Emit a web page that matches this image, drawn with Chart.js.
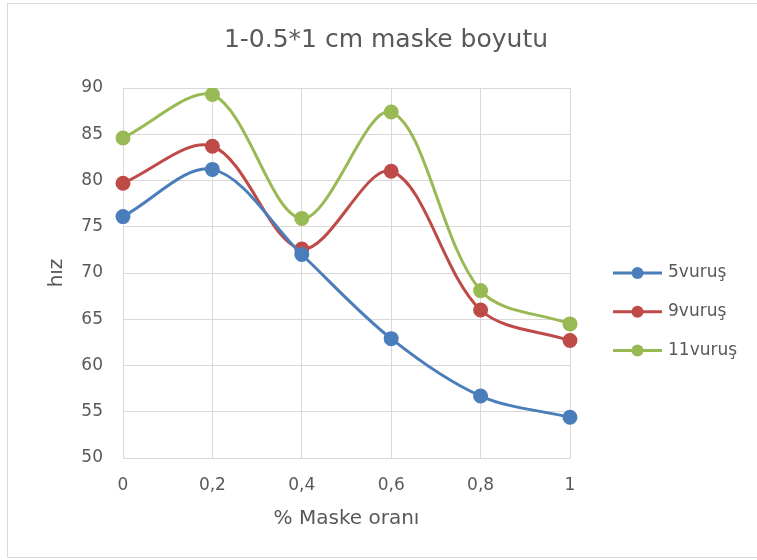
<!DOCTYPE html>
<html>
<head>
<meta charset="utf-8">
<script src="https://cdn.jsdelivr.net/npm/chart.js@4/dist/chart.umd.min.js"></script>
<style>
  html, body { margin: 0; padding: 0; background: #ffffff; }
  #wrap { width: 757px; height: 560px; position: relative; }
</style>
</head>
<body>
<div id="wrap"><canvas id="c" width="757" height="560"></canvas></div>
<script>
const chartTitle = "1-0.5*1 cm maske boyutu";
const xAxisTitle = "% Maske oranı";
const yAxisTitle = "hız";
const categories = ["0", "0,2", "0,4", "0,6", "0,8", "1"];
const seriesNames = ["5vuruş", "9vuruş", "11vuruş"];
const seriesColors = ["#4A7EBB", "#BE4B48", "#98B954"];
const values5 = [76.1, 81.2, 72.0, 62.9, 56.7, 54.4];
const values9 = [79.7, 83.7, 72.6, 81.0, 66.0, 62.7];
const values11 = [84.6, 89.3, 75.9, 87.4, 68.1, 64.5];
const yMin = 50, yMax = 90, yStep = 5;

const textColor = "#595959";
const gridColor = "#D9D9D9";
const fontFamily = "'DejaVu Sans', sans-serif";

const allValues = [values5, values9, values11];
const datasets = allValues.map((vals, i) => ({
  label: seriesNames[i],
  data: vals,
  borderColor: seriesColors[i],
  backgroundColor: seriesColors[i],
  pointBackgroundColor: seriesColors[i],
  pointBorderColor: seriesColors[i],
  borderWidth: 3,
  pointRadius: 6,
  pointHoverRadius: 6,
  tension: 0.33,
  fill: false,
  yAxisID: 'y'
}));

const frameAndLegend = {
  id: 'frameAndLegend',
  afterDraw(chart) {
    const ctx = chart.ctx;
    ctx.save();
    ctx.strokeStyle = gridColor;
    ctx.lineWidth = 1;
    ctx.strokeRect(7.5, 3.5, 770, 554);
    // legend
    const x0 = 613, x1 = 662, tx = 668;
    chart.data.datasets.forEach((ds, i) => {
      const y = 273 + i * 38.7;
      ctx.strokeStyle = ds.borderColor;
      ctx.lineWidth = 3;
      ctx.beginPath();
      ctx.moveTo(x0, y);
      ctx.lineTo(x1, y);
      ctx.stroke();
      ctx.fillStyle = ds.borderColor;
      ctx.beginPath();
      ctx.arc((x0 + x1) / 2, y, 6, 0, Math.PI * 2);
      ctx.fill();
      ctx.fillStyle = textColor;
      ctx.font = "17px " + fontFamily;
      ctx.textAlign = 'left';
      ctx.textBaseline = 'middle';
      ctx.fillText(ds.label, tx, y);
    });
    ctx.restore();
  }
};

new Chart(document.getElementById('c'), {
  type: 'line',
  data: { labels: categories, datasets: datasets },
  options: {
    responsive: false,
    animation: false,
    events: [],
    layout: { padding: { left: 15, right: 0, top: 0, bottom: 29 } },
    plugins: {
      legend: { display: false },
      tooltip: { enabled: false },
      title: {
        display: true,
        text: chartTitle,
        color: textColor,
        font: { family: fontFamily, size: 25, weight: 'normal', lineHeight: 1.2 },
        padding: { top: 25, bottom: 33 }
      }
    },
    scales: {
      x: {
        type: 'category',
        offset: false,
        grid: { color: gridColor, lineWidth: 1, drawTicks: false },
        border: { color: gridColor, width: 1 },
        ticks: { color: textColor, padding: 17, maxRotation: 0, autoSkip: false,
                 font: { family: fontFamily, size: 17 } },
        title: { display: true, text: xAxisTitle, color: textColor,
                 padding: { top: 0, bottom: 0 },
                 font: { family: fontFamily, size: 20, lineHeight: 1.2 } },
        afterFit: (s) => { s.height = 73; }
      },
      y: {
        type: 'linear',
        position: 'left',
        min: yMin, max: yMax,
        grid: { color: gridColor, lineWidth: 1, drawTicks: false },
        border: { color: gridColor, width: 1 },
        ticks: { stepSize: yStep, color: textColor, padding: 20,
                 font: { family: fontFamily, size: 17 } },
        title: { display: true, text: yAxisTitle, color: textColor,
                 padding: { top: 30, bottom: 0 },
                 font: { family: fontFamily, size: 20, lineHeight: 1.2 } },
        afterFit: (s) => { s.width = 108; }
      },
      yR: {
        type: 'linear',
        position: 'right',
        display: true,
        grid: { display: false, drawTicks: false },
        border: { display: false },
        ticks: { display: false },
        afterFit: (s) => { s.width = 187; }
      }
    }
  },
  plugins: [frameAndLegend]
});
</script>
</body>
</html>
